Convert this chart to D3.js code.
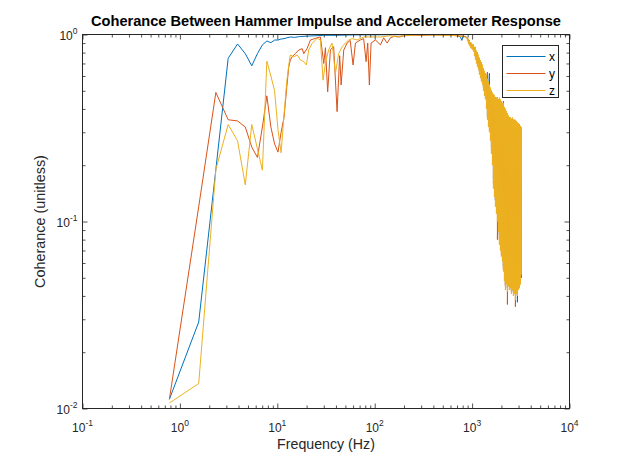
<!DOCTYPE html>
<html>
<head>
<meta charset="utf-8">
<script src="https://cdn.jsdelivr.net/npm/d3@7"></script>
<style>
  html, body { margin: 0; padding: 0; background: #fff; }
  svg { display: block; font-family: "Liberation Sans", Arial, Helvetica, sans-serif; }
</style>
</head>
<body>
<svg width="630" height="459"></svg>
<script>
// low frequency bins (Hz) shared by all three channels
const lowFreq = [0.78, 1.56, 2.34, 3.13, 3.91, 4.69, 5.47, 6.25, 7.03, 7.81, 8.59, 9.38, 10.16];
const blueLow = [0.0112, 0.029, 0.19, 0.746, 0.89, 0.79, 0.68, 0.79, 0.88, 0.923, 0.904, 0.934, 0.934];
const redLow = [0.0112, 0.12, 0.49, 0.35, 0.345, 0.32, 0.25, 0.22, 0.32, 0.47, 0.32, 0.26, 0.235];
const yelLow = [0.0107, 0.0136, 0.19, 0.33, 0.27, 0.157, 0.33, 0.245, 0.188, 0.72, 0.60, 0.50, 0.31];

// mid band, 10 Hz .. 850 Hz
const blueMidF = [10.94, 11.72, 12.5, 13.6, 15.0, 17.0, 20.0, 25.0, 30.0, 40.0, 60.0, 100, 150, 200, 300, 400, 500, 600, 700, 760, 785, 810, 850];
const blueMid = [0.946, 0.95, 0.96, 0.97, 0.965, 0.975, 0.98, 0.985, 0.99, 0.99, 0.995, 0.996, 0.997, 0.998, 0.999, 0.999, 0.998, 0.997, 0.99, 0.97, 0.93, 0.98, 0.975];

const redMidF = [10.94, 11.72, 12.5, 13.1, 13.6, 14.2, 15.3, 16.6, 18.0, 18.7, 20.2, 21.9, 25.6, 27.7, 30.0, 31.2, 32.9, 35.1, 37.9, 41.1, 43.7, 45.2, 48.1, 52.1, 56.0, 60.0, 63.4, 71.3, 77.0, 81.6, 84.8, 88.2, 91.8, 101.7, 114.4, 123.7, 134, 145, 160, 180, 200, 250, 300, 400, 500, 600, 700, 800, 850];
const redMid = [0.30, 0.36, 0.52, 0.67, 0.73, 0.76, 0.79, 0.826, 0.84, 0.79, 0.84, 0.935, 0.96, 0.97, 0.70, 0.85, 0.494, 0.83, 0.86, 0.387, 0.77, 0.537, 0.826, 0.9, 0.93, 0.687, 0.9, 0.935, 0.95, 0.716, 0.9, 0.537, 0.9, 0.935, 0.88, 0.96, 0.9, 0.96, 0.98, 0.97, 0.985, 0.99, 0.99, 0.995, 0.993, 0.99, 0.985, 0.98, 0.975];

const yelMidF = [10.94, 11.72, 12.5, 13.28, 13.6, 14.7, 16.0, 17.3, 18.7, 19.9, 21.0, 22.8, 25.6, 27.7, 29.5, 31.2, 33.7, 36.5, 39.5, 42.7, 46.3, 50.0, 54.1, 58.6, 65.9, 77.1, 90.3, 114.4, 145, 170, 200, 250, 300, 400, 500, 600, 700, 800, 850];
const yelMid = [0.233, 0.37, 0.56, 0.72, 0.777, 0.76, 0.777, 0.73, 0.715, 0.687, 0.826, 0.897, 0.954, 0.935, 0.57, 0.70, 0.83, 0.90, 0.62, 0.79, 0.86, 0.90, 0.935, 0.95, 0.935, 0.97, 0.97, 0.97, 0.985, 0.97, 0.99, 0.99, 0.995, 0.995, 0.99, 0.99, 0.985, 0.975, 0.97];

// roll-off band above ~900 Hz: the signal swings between a high and a low value bin to bin
const bandF = [895, 916, 938, 961, 984, 1007, 1031, 1056, 1081, 1107, 1133, 1160, 1188, 1217, 1246, 1276, 1306, 1338, 1370, 1402, 1436, 1470, 1506, 1542, 1579, 1616, 1655, 1695, 1735, 1777, 1819, 1863, 1907, 1953, 2000, 2047, 2096, 2146, 2198, 2250, 2304, 2359, 2415, 2474, 2533, 2593, 2655, 2718, 2783, 2850, 2918, 2988, 3059, 3133, 3207];
const yelHi = [0.96, 0.95, 0.93, 0.91, 0.90, 0.89, 0.88, 0.86, 0.85, 0.82, 0.80, 0.78, 0.75, 0.73, 0.71, 0.69, 0.66, 0.64, 0.62, 0.61, 0.58, 0.56, 0.54, 0.52, 0.50, 0.49, 0.48, 0.475, 0.46, 0.46, 0.46, 0.45, 0.46, 0.45, 0.44, 0.43, 0.43, 0.41, 0.40, 0.39, 0.38, 0.37, 0.36, 0.36, 0.355, 0.36, 0.35, 0.35, 0.35, 0.345, 0.34, 0.335, 0.33, 0.325, 0.32];
const yelLo = [0.92, 0.89, 0.87, 0.85, 0.84, 0.83, 0.81, 0.77, 0.73, 0.70, 0.67, 0.65, 0.61, 0.585, 0.56, 0.54, 0.50, 0.47, 0.45, 0.40, 0.35, 0.32, 0.30, 0.27, 0.23, 0.20, 0.15, 0.135, 0.12, 0.11, 0.10, 0.088, 0.075, 0.070, 0.065, 0.061, 0.054, 0.048, 0.043, 0.046, 0.042, 0.045, 0.043, 0.044, 0.041, 0.043, 0.040, 0.041, 0.038, 0.041, 0.040, 0.043, 0.044, 0.046, 0.052];

// x and y channels: every second band bin
const bandF2 = bandF.filter((d, i) => i % 2 === 0);
const redHi = [0.95, 0.92, 0.89, 0.87, 0.84, 0.79, 0.74, 0.70, 0.65, 0.61, 0.63, 0.53, 0.49, 0.47, 0.45, 0.45, 0.45, 0.43, 0.44, 0.39, 0.37, 0.355, 0.35, 0.34, 0.34, 0.335, 0.325, 0.32];
const redLo = [0.93, 0.88, 0.85, 0.82, 0.75, 0.69, 0.63, 0.57, 0.52, 0.46, 0.36, 0.31, 0.24, 0.16, 0.13, 0.08, 0.08, 0.066, 0.056, 0.045, 0.036, 0.045, 0.042, 0.042, 0.035, 0.040, 0.045, 0.05];
const blueHi = [0.96, 0.93, 0.90, 0.88, 0.85, 0.80, 0.75, 0.71, 0.66, 0.62, 0.59, 0.62, 0.50, 0.48, 0.46, 0.46, 0.45, 0.44, 0.43, 0.40, 0.38, 0.36, 0.35, 0.35, 0.34, 0.335, 0.33, 0.32];
const blueLo = [0.94, 0.89, 0.86, 0.83, 0.76, 0.70, 0.64, 0.58, 0.53, 0.47, 0.37, 0.32, 0.25, 0.17, 0.13, 0.11, 0.085, 0.07, 0.058, 0.046, 0.044, 0.045, 0.043, 0.042, 0.041, 0.037, 0.046, 0.05];

const seriesNames = ["x", "y", "z"];
const seriesColors = ["#0072BD", "#D95319", "#EDB120"];
const xTickExp = ["-1", "0", "1", "2", "3", "4"];
const yTickExp = ["-2", "-1", "0"];

function buildSeries(lowV, midF, midV, bF, hi, lo) {
  const pts = lowFreq.map((f, i) => [f, lowV[i]]);
  midF.forEach((f, i) => pts.push([f, midV[i]]));
  bF.forEach((f, i) => {
    pts.push([f, hi[i]]);
    pts.push([f, lo[i]]);
  });
  return pts;
}

const series = [
  buildSeries(blueLow, blueMidF, blueMid, bandF2, blueHi, blueLo),
  buildSeries(redLow, redMidF, redMid, bandF2, redHi, redLo),
  buildSeries(yelLow, yelMidF, yelMid, bandF, yelHi, yelLo)
];

const svg = d3.select("svg"),
  axisColor = "#262626",
  plotL = 82.5, plotR = 569.5, plotT = 34.5, plotB = 408.5;

const x = d3.scaleLog().domain([0.1, 1e4]).range([plotL, plotR]);
const y = d3.scaleLog().domain([0.01, 1]).range([plotB, plotT]);

const isDecade = (d) => Math.abs(Math.log10(d) - Math.round(Math.log10(d))) < 1e-9;
const xMajor = x.ticks().filter(isDecade),
  xMinor = x.ticks().filter((d) => !isDecade(d)),
  yMajor = y.ticks().filter(isDecade),
  yMinor = y.ticks().filter((d) => !isDecade(d));

// data lines
const line = d3.line().x((d) => x(d[0])).y((d) => y(d[1]));
svg.append("g")
  .selectAll("path")
  .data(series)
  .enter()
  .append("path")
  .attr("d", line)
  .style("fill", "none")
  .style("stroke", (d, i) => seriesColors[i])
  .style("stroke-width", 1)
  .style("stroke-linejoin", "round");

// ticks on all four sides, pointing inward
function ticks(axis, values, size, transform) {
  const g = svg.append("g")
    .attr("transform", transform)
    .call(axis.tickValues(values).tickSize(-size).tickSizeOuter(0).tickFormat(""));
  g.select(".domain").remove();
  g.selectAll("line").style("stroke", axisColor).style("stroke-width", 0.8);
}
ticks(d3.axisBottom(x), xMajor, 5, `translate(0,${plotB})`);
ticks(d3.axisBottom(x), xMinor, 3, `translate(0,${plotB})`);
ticks(d3.axisTop(x), xMajor, 5, `translate(0,${plotT})`);
ticks(d3.axisTop(x), xMinor, 3, `translate(0,${plotT})`);
ticks(d3.axisLeft(y), yMajor, 5, `translate(${plotL},0)`);
ticks(d3.axisLeft(y), yMinor, 3, `translate(${plotL},0)`);
ticks(d3.axisRight(y), yMajor, 5, `translate(${plotR},0)`);
ticks(d3.axisRight(y), yMinor, 3, `translate(${plotR},0)`);

svg.append("rect")
  .attr("x", plotL).attr("y", plotT)
  .attr("width", plotR - plotL).attr("height", plotB - plotT)
  .style("fill", "none")
  .style("stroke", axisColor)
  .style("stroke-width", 1);

// tick labels 10^n
const xLab = svg.append("g").selectAll("text")
  .data(xMajor)
  .enter()
  .append("text")
  .attr("x", (d) => x(d))
  .attr("y", plotB + 23)
  .attr("text-anchor", "middle")
  .style("font-size", "12px")
  .style("fill", axisColor);
xLab.append("tspan").text("10");
xLab.append("tspan").attr("dy", -6).style("font-size", "8.5px").text((d, i) => xTickExp[i]);

const yLab = svg.append("g").selectAll("text")
  .data(yMajor)
  .enter()
  .append("text")
  .attr("x", plotL - 5)
  .attr("y", (d) => y(d) + 5)
  .attr("text-anchor", "end")
  .style("font-size", "12px")
  .style("fill", axisColor);
yLab.append("tspan").text("10");
yLab.append("tspan").attr("dy", -6).style("font-size", "8.5px").text((d, i) => yTickExp[i]);

// titles
svg.append("text")
  .attr("x", (plotL + plotR) / 2)
  .attr("y", 26)
  .attr("text-anchor", "middle")
  .style("font-size", "14.6px")
  .style("font-weight", "bold")
  .style("fill", "#000")
  .text("Coherance Between Hammer Impulse and Accelerometer Response");

svg.append("text")
  .attr("x", (plotL + plotR) / 2)
  .attr("y", 449)
  .attr("text-anchor", "middle")
  .style("font-size", "14.2px")
  .style("fill", axisColor)
  .text("Frequency (Hz)");

svg.append("text")
  .attr("transform", `translate(45,${(plotT + plotB) / 2}) rotate(-90)`)
  .attr("text-anchor", "middle")
  .style("font-size", "14.4px")
  .style("fill", axisColor)
  .text("Coherance (unitless)");

// legend
const legend = svg.append("g").attr("transform", "translate(502.5,45.5)");
legend.append("rect")
  .attr("width", 56).attr("height", 52)
  .style("fill", "#fff")
  .style("stroke", axisColor)
  .style("stroke-width", 1);
const entry = legend.selectAll(".entry")
  .data(seriesNames)
  .enter()
  .append("g")
  .attr("transform", (d, i) => `translate(0,${11 + i * 17})`);
entry.append("line")
  .attr("x1", 4).attr("x2", 43)
  .style("stroke", (d, i) => seriesColors[i])
  .style("stroke-width", 1);
entry.append("text")
  .attr("x", 46.5)
  .attr("y", 4)
  .style("font-size", "12px")
  .style("fill", "#000")
  .text((d) => d);
</script>
</body>
</html>
